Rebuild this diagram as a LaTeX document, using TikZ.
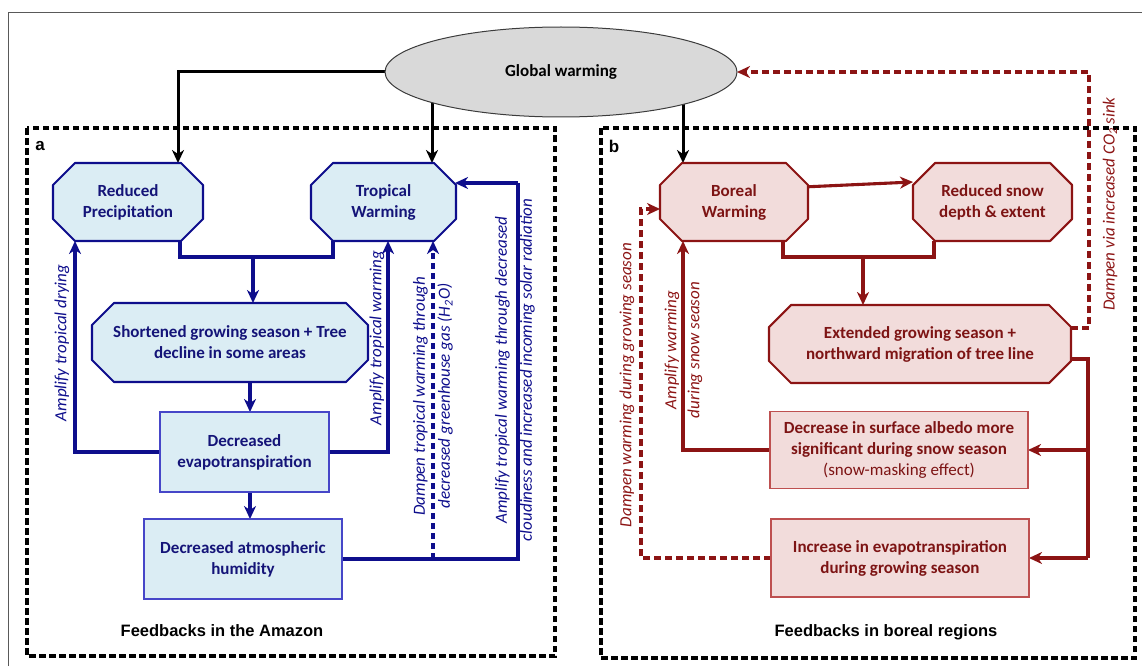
\documentclass[tikz,border=0pt]{standalone}
\usepackage{fontspec}
\setmainfont{Carlito}
\newfontfamily\arialf{Liberation Sans}
\usetikzlibrary{shapes.geometric,arrows.meta,calc}
\pgfdeclarelayer{bg}
\pgfdeclarelayer{mid}
\pgfsetlayers{bg,mid,main}
\definecolor{bline}{RGB}{14,14,140}
\definecolor{btext}{RGB}{20,20,120}
\definecolor{bfill}{RGB}{219,237,244}
\definecolor{bbord}{RGB}{70,70,200}
\definecolor{rline}{RGB}{140,20,20}
\definecolor{rtext}{RGB}{125,20,20}
\definecolor{rfill}{RGB}{242,220,219}
\definecolor{rbord}{RGB}{190,80,80}
\definecolor{gfill}{RGB}{217,217,217}
\definecolor{gbord}{RGB}{60,60,60}
\newcommand\octoshape[3]{%
  \begin{pgfonlayer}{mid}
  \path[draw=#2,fill=#3,line width=2.1pt,line join=round]
    ($(#1.north west)+(22,0)$) -- ($(#1.north east)+(-22,0)$) -- ($(#1.north east)+(0,22)$)
    -- ($(#1.south east)+(0,-22)$) -- ($(#1.south east)+(-22,0)$) -- ($(#1.south west)+(22,0)$)
    -- ($(#1.south west)+(0,-22)$) -- ($(#1.north west)+(0,22)$) -- cycle;
  \end{pgfonlayer}}
\begin{document}
\begin{tikzpicture}[x=1pt,y=-1pt,
  every node/.style={inner sep=0pt,outer sep=0pt,align=center},
  btxt/.style={font=\fontsize{17}{21}\selectfont\bfseries},
  bocta/.style={rectangle,text=btext,btxt},
  bbox/.style={rectangle,draw=bbord,line width=1.2pt,fill=bfill,text=btext,btxt},
  rocta/.style={rectangle,text=rtext,btxt},
  rbox/.style={rectangle,draw=rbord,line width=1.2pt,fill=rfill,text=rtext,btxt},
  tip/.style={-{Stealth[length=13pt,width=12pt,inset=4pt]}},
  karr/.style={draw=black,line width=3pt,tip},
  bl/.style={draw=bline,line width=3.3pt},
  barr/.style={bl,tip},
  bdash/.style={bl,tip,dash pattern=on 6pt off 4pt},
  rl/.style={draw=rline,line width=3.1pt},
  rarr/.style={rl,tip},
  rdash/.style={rl,tip,dash pattern=on 7pt off 4pt},
  frame/.style={draw=black,line width=3.3pt,dash pattern=on 6.5pt off 3.5pt},
  blab/.style={text=bline,font=\fontsize{17}{25}\selectfont\itshape},
  rlab/.style={text=rline,font=\fontsize{17}{23}\selectfont\itshape},
  ttl/.style={font=\arialf\bfseries\fontsize{16.5}{18}\selectfont},
  plab/.style={font=\arialf\bfseries\fontsize{17}{18}\selectfont}]
\useasboundingbox (0,0) rectangle (1142,666);
\draw[gray!70!black,line width=1pt] (8,666) -- (8,13) -- (1142,13);

% nodes
\node[ellipse,draw=gbord,line width=1pt,fill=gfill,minimum width=352pt,minimum height=90pt,font=\fontsize{17}{20}\selectfont\bfseries] (gw) at (561,72) {Global warming};

\node[bocta,minimum width=150pt,minimum height=78pt] (rp) at (128,202) {Reduced\\Precipitation};
\node[bocta,minimum width=145pt,minimum height=78pt] (tw) at (383.5,202) {Tropical\\Warming};
\node[bocta,minimum width=276pt,minimum height=79pt] (sh) at (230,342.5) {Shortened growing season + Tree\\decline in some areas};
\node[bbox,minimum width=169pt,minimum height=80pt] (ev) at (244.5,452) {Decreased\\evapotranspiration};
\node[bbox,minimum width=198pt,minimum height=80pt] (hu) at (243,559) {Decreased atmospheric\\humidity};

\node[rocta,minimum width=148pt,minimum height=78pt] (bo) at (734,202) {Boreal\\Warming};
\node[rocta,minimum width=159pt,minimum height=78pt] (sn) at (992.5,202) {Reduced snow\\depth \& extent};
\node[rocta,minimum width=302pt,minimum height=78pt] (ex) at (920,344) {Extended growing season +\\northward migration of tree line};
\node[rbox,minimum width=258pt,minimum height=77pt] (al) at (899,450) {Decrease in surface albedo more\\significant during snow season\\{\mdseries (snow-masking effect)}};
\node[rbox,minimum width=258pt,minimum height=78pt] (ie) at (900,558) {Increase in evapotranspiration\\during growing season};

\octoshape{rp}{bline}{bfill}
\octoshape{tw}{bline}{bfill}
\octoshape{sh}{bline}{bfill}
\octoshape{bo}{rline}{rfill}
\octoshape{sn}{rline}{rfill}
\octoshape{ex}{rline}{rfill}

\node[plab] (pa) at (40,146) {a};
\node[plab] (pb) at (614,146) {b};
\node[ttl] (ta) at (222,631) {Feedbacks in the Amazon};
\node[ttl] (tb) at (886,632) {Feedbacks in boreal regions};

% labels
\node[blab,rotate=90] (l1) at (62,343) {Amplify tropical drying};
\node[blab,rotate=90] (l2) at (377,338) {Amplify tropical warming};
\node[blab,rotate=90] (l3) at (433,396) {Dampen tropical warming through\\decreased greenhouse gas (H\textsubscript{2}O)};
\node[blab,rotate=90] (l4) at (515,370) {Amplify tropical warming through decreased\\cloudiness and increased incoming solar radiation};
\node[rlab,rotate=90] (l5) at (1110,204) {Dampen via increased CO\textsubscript{2} sink};
\node[rlab,rotate=90] (l6) at (627,385) {Dampen warming during growing season};
\node[rlab,rotate=90] (l7) at (683.5,350) {Amplify warming\\during snow season};

% coordinates
\coordinate (j1) at (253,257);
\coordinate (j3) at (863,257);
\coordinate (hr) at (518,183);
\coordinate (cr) at (1089,72);
\coordinate (rv) at (1088,558);

\begin{pgfonlayer}{bg}
\draw[frame] (27,128) rectangle (555,656);
\draw[frame] (601,128) rectangle (1135,658);
% black
\draw[karr] (gw.west) -| ($(rp.north)+(50,0)$);
\draw[karr] (gw.center -| {$(tw.north)+(48.5,0)$}) -- ($(tw.north)+(48.5,0)$);
\draw[karr] (gw.center -| {$(bo.north)+(-51,0)$}) -- ($(bo.north)+(-51,0)$);
% blue
\draw[bl] ($(rp.south)+(52,0)$) |- (j1) -| ($(tw.south)+(-50.5,0)$);
\draw[barr] (j1) -- (j1 |- sh.north);
\draw[barr] ($(sh.south)+(20,0)$) coordinate (t1) -- (t1 |- ev.north);
\draw[barr] ($(ev.south)+(5.5,0)$) coordinate (t2) -- (t2 |- hu.north);
\draw[barr] (ev.west) -| ($(rp.south)+(-53,0)$);
\draw[barr] (ev.east) -| ($(tw.south)+(4.5,0)$);
\draw[bl] (hu.east) -| (hr);
\draw[barr] (hr) -- ($(tw.east)+(-1,-19)$);
\draw[bdash] (hu.east -| {$(tw.south)+(49.5,0)$}) -- ($(tw.south)+(49.5,0)$);
% red
\draw[rarr] ($(bo.east)+(-5,-15)$) -- ($(sn.west)+(0,-20)$);
\draw[rl] ($(bo.south)+(49,0)$) |- (j3) -| ($(sn.south)+(-58.5,0)$);
\draw[rarr] (j3) -- (j3 |- ex.north);
\draw[rdash] ($(ex.east)+(0,-16)$) -| (cr) -- (gw.east);
\draw[rl] ($(ex.east)+(0,15)$) -| (rv);
\draw[rarr] (rv) -- (ie.east);
\draw[rarr] (al.east -| rv) -- (al.east);
\draw[rarr] (al.west) -| ($(bo.south)+(-51,0)$);
\draw[rdash] (ie.west) -| ($(bo.west)+(-19,7)$) coordinate (dl) -- ($(bo.west)+(0,7)$);
\end{pgfonlayer}
\end{tikzpicture}
\end{document}
